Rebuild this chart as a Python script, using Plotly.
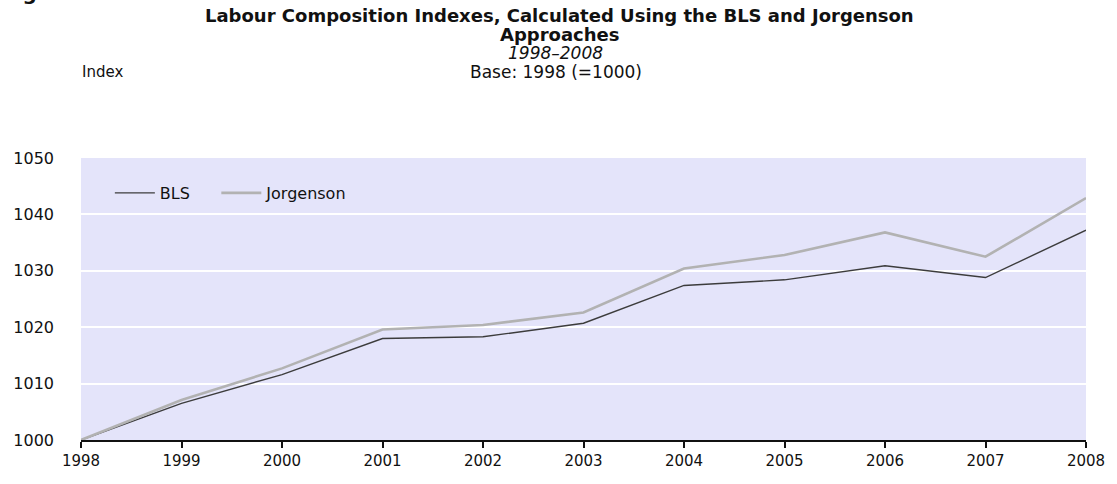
import plotly.graph_objects as go

years = [1998, 1999, 2000, 2001, 2002, 2003, 2004, 2005, 2006, 2007, 2008]
bls = [1000, 1006.5, 1011.6, 1018.0, 1018.3, 1020.7, 1027.4, 1028.4, 1030.9, 1028.8, 1037.2]
jorgenson = [1000, 1007.1, 1012.7, 1019.6, 1020.4, 1022.6, 1030.4, 1032.8, 1036.8, 1032.5, 1042.9]
y_ticks = [1000, 1010, 1020, 1030, 1040, 1050]

W, H = 1117, 484
ML, MR, MT, MB = 81, 26, 158, 44
PW, PH = W - ML - MR, H - MT - MB

FONT = "DejaVu Sans, Liberation Sans, Arial, sans-serif"
TXT = "#111111"


def px_x(x):
    return (x - ML) / PW


def px_y(y):
    return (H - MB - y) / PH


fig = go.Figure()
fig.add_trace(go.Scatter(x=years, y=bls, mode="lines", name="BLS", legend="legend",
                         line=dict(color="#3c3c3c", width=1.4)))
fig.add_trace(go.Scatter(x=years, y=jorgenson, mode="lines", name="Jorgenson", legend="legend2",
                         line=dict(color="#b2b2b2", width=2.6)))

legend_style = dict(orientation="h", xanchor="left", yanchor="middle",
                    bgcolor="rgba(0,0,0,0)", font=dict(size=16, color=TXT, family=FONT),
                    itemwidth=40)

fig.update_layout(
    width=W, height=H,
    margin=dict(l=ML, r=MR, t=MT, b=MB, pad=0),
    paper_bgcolor="white",
    plot_bgcolor="#E4E4FA",
    font=dict(family=FONT, size=15, color=TXT),
    showlegend=True,
    legend=dict(x=px_x(110), y=px_y(193), **legend_style),
    legend2=dict(x=px_x(217), y=px_y(193), **legend_style),
    xaxis=dict(range=[1998, 2008], tickvals=years, ticktext=[str(y) for y in years],
               showgrid=False, zeroline=False, showline=True, linecolor="#111111", linewidth=1.5,
               ticks="outside", ticklen=6, tickcolor="#111111", tickwidth=1.5,
               tickfont=dict(size=15, color=TXT)),
    yaxis=dict(range=[1000, 1050], tickvals=y_ticks, showgrid=True, gridcolor="white", gridwidth=1.5,
               zeroline=False, showline=False, ticks="", ticklabelstandoff=26,
               tickfont=dict(size=16, color=TXT)),
)

annotations = [
    dict(text="<b>Labour Composition Indexes, Calculated Using the BLS and Jorgenson</b>",
         x=px_x(562), y=px_y(15), size=18),
    dict(text="<b>Approaches</b>", x=px_x(562), y=px_y(34), size=18),
    dict(text="<i>1998–2008</i>", x=px_x(558), y=px_y(53), size=17),
    dict(text="Base: 1998 (=1000)", x=px_x(558), y=px_y(72), size=17),
    dict(text="Index", x=px_x(80), y=px_y(72), size=15, xanchor="left"),
    dict(text="<b>Figure</b>", x=px_x(0), y=px_y(-7), size=20, xanchor="left"),
]
for a in annotations:
    fig.add_annotation(text=a["text"], x=a["x"], y=a["y"], xref="paper", yref="paper",
                       showarrow=False, xanchor=a.get("xanchor", "center"), yanchor="middle",
                       font=dict(size=a["size"], color=TXT, family=FONT))

fig.write_html("out.html", config={"displayModeBar": False},
               post_script="document.body.style.margin='0';")
